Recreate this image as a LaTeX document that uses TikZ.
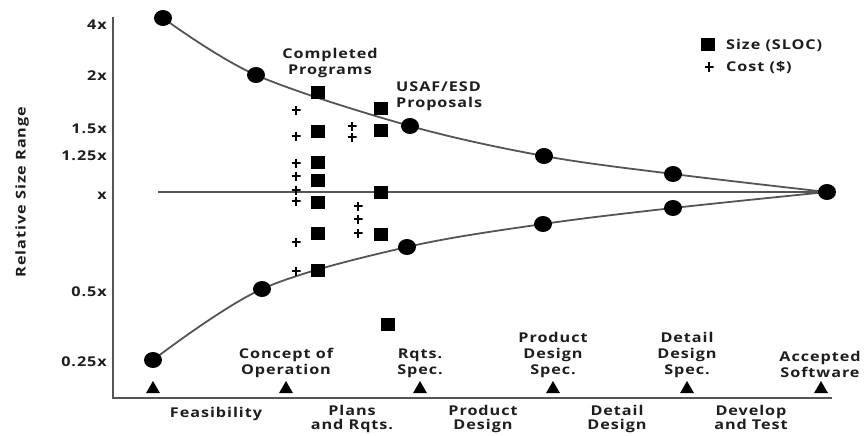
\documentclass[tikz,border=0pt]{standalone}
\usepackage{fontspec}
\setmainfont{Open Sans}[FakeStretch=1.2,LetterSpace=7]
\usetikzlibrary{shapes.geometric}
\definecolor{ink}{HTML}{1E1E1E}
\definecolor{linec}{HTML}{555555}
\tikzset{
  dotn/.style={ellipse,fill=black,minimum width=18pt,minimum height=16pt,inner sep=0pt},
  sq/.style={rectangle,fill=black,minimum width=14pt,minimum height=13pt,inner sep=0pt},
  cst/.style={inner sep=0pt,minimum size=9pt,path picture={
     \draw[black,line width=2pt] (path picture bounding box.north) -- (path picture bounding box.south)
       (path picture bounding box.west) -- (path picture bounding box.east);}},
  tri/.style={regular polygon,regular polygon sides=3,fill=black,minimum size=16pt,inner sep=0pt},
  lbl/.style={text=ink,font=\fontsize{13.5}{16}\selectfont\bfseries,inner sep=0pt,align=center},
  phase/.style={lbl,font=\fontsize{13.5}{14.5}\selectfont\bfseries},
  curve/.style={draw=linec,line width=1.8pt},
  axisl/.style={draw=linec,line width=2.4pt}
}
\begin{document}
\begin{tikzpicture}[x=1pt,y=-1pt]
\useasboundingbox[fill=white] (0,0) rectangle (864,436);
% curve points
\coordinate (u1) at (163,18);
\coordinate (u2) at (256,75);
\coordinate (u3) at (410,126);
\coordinate (u4) at (544,156);
\coordinate (u5) at (673,174);
\coordinate (e) at (827,192);
\coordinate (l1) at (153,360);
\coordinate (l2) at (262,289);
\coordinate (l3) at (407,247);
\coordinate (l4) at (543,224);
\coordinate (l5) at (673,208);
\coordinate (h0) at (158,192);
% axes
\coordinate (ot) at (113,17);
\coordinate (o) at (113,398);
\coordinate (ax) at (832,398);
\draw[axisl] (ot) -- (o) -- (ax);
% centre line and curves
\draw[curve] (h0) -- (e);
\draw[curve] plot[smooth,tension=0.55] coordinates {(u1) (u2) (u3) (u4) (u5) (e)};
\draw[curve] plot[smooth,tension=0.55] coordinates {(l1) (l2) (l3) (l4) (l5) (e)};
% dots
\foreach \n in {u1,u2,u3,u4,u5,l1,l2,l3,l4,l5,e} \node[dotn] (d\n) at (\n) {};
% size squares
\node[sq] (s1) at (318,92) {};
\node[sq] (s2) at (318,131) {};
\node[sq] (s3) at (318,162) {};
\node[sq] (s4) at (318,180) {};
\node[sq] (s5) at (318,202) {};
\node[sq] (s6) at (318,233) {};
\node[sq] (s7) at (318,270) {};
\node[sq] (s8) at (381,108) {};
\node[sq] (s9) at (381,130) {};
\node[sq] (s10) at (381,192) {};
\node[sq] (s11) at (381,234) {};
\node[sq] (s12) at (388,324) {};
% cost crosses
\node[cst] (c1) at (296,110) {};
\node[cst] (c2) at (296,136) {};
\node[cst] (c3) at (296,163) {};
\node[cst] (c4) at (296,176) {};
\node[cst] (c5) at (296,190) {};
\node[cst] (c6) at (296,201) {};
\node[cst] (c7) at (296,242) {};
\node[cst] (c8) at (296,271) {};
\node[cst] (c9) at (352,126) {};
\node[cst] (c10) at (352,137) {};
\node[cst] (c11) at (358,206) {};
\node[cst] (c12) at (358,219) {};
\node[cst] (c13) at (358,233) {};
% y labels
\node[lbl,anchor=east] (y1) at (107,25) {4x};
\node[lbl,anchor=east] (y2) at (107,76) {2x};
\node[lbl,anchor=east] (y3) at (107,129) {1.5x};
\node[lbl,anchor=east] (y4) at (107,156) {1.25x};
\node[lbl,anchor=east] (y5) at (107,196) {x};
\node[lbl,anchor=east] (y6) at (107,292) {0.5x};
\node[lbl,anchor=east] (y7) at (107,362) {0.25x};
\node[lbl,rotate=90] (ylab) at (22,192) {Relative Size Range};
% milestones
\foreach \i/\x in {1/153,2/286,3/420,4/553,5/687,6/821} \node[tri] (t\i) at (\x,389) {};
\node[lbl,anchor=south] (m2) at (286,378) {Concept of\\Operation};
\node[lbl,anchor=south] (m3) at (420,378) {Rqts.\\Spec.};
\node[lbl,anchor=south] (m4) at (553,378) {Product\\Design\\Spec.};
\node[lbl,anchor=south] (m5) at (687,378) {Detail\\Design\\Spec.};
\node[lbl,anchor=south] (m6) at (820,378) {Accepted\\Software};
% phases
\node[phase,anchor=north] (p1) at (216,407) {Feasibility};
\node[phase,anchor=north] (p2) at (352,405) {Plans\\and Rqts.};
\node[phase,anchor=north] (p3) at (483,405) {Product\\Design};
\node[phase,anchor=north] (p4) at (617,405) {Detail\\Design};
\node[phase,anchor=north] (p5) at (751,405) {Develop\\and Test};
% annotations
\node[lbl] (a1) at (330,63) {Completed\\Programs};
\node[lbl,anchor=west,align=left] (a2) at (396,96) {USAF/ESD\\Proposals};
% legend
\node[sq] (ls) at (708,45) {};
\node[lbl,anchor=west] (lt1) at (726,45) {Size (SLOC)};
\node[cst] (lc) at (709,67) {};
\node[lbl,anchor=west] (lt2) at (726,67) {Cost (\$)};
\end{tikzpicture}
\end{document}
